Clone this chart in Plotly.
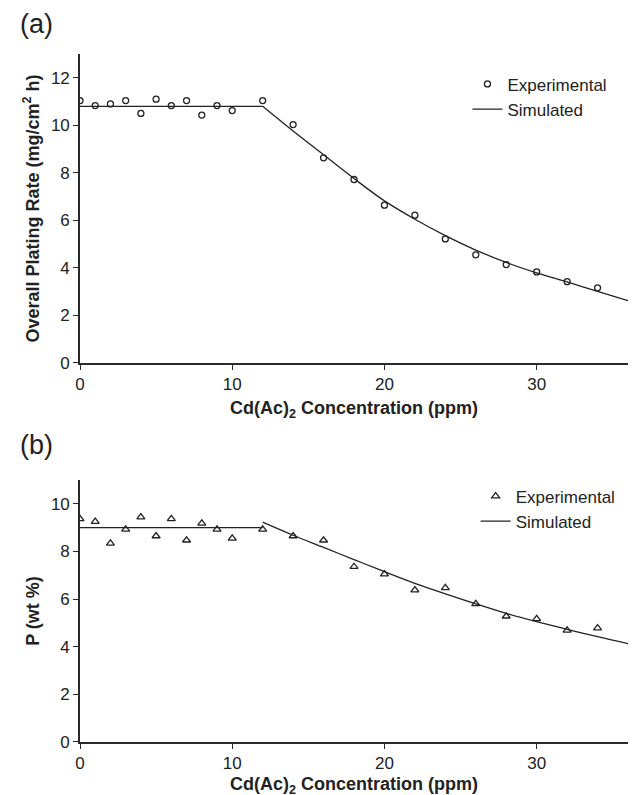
import plotly.graph_objects as go

# ---- data ----
conc_exp = [0, 1, 2, 3, 4, 5, 6, 7, 8, 9, 10, 12, 14, 16, 18, 20, 22, 24, 26, 28, 30, 32, 34]
rate_exp = [11.04, 10.83, 10.9, 11.04, 10.5, 11.1, 10.83, 11.04, 10.43, 10.83, 10.62, 11.04,
            10.03, 8.63, 7.72, 6.64, 6.22, 5.22, 4.55, 4.14, 3.83, 3.42, 3.16]
rate_sim_flat_x = [0, 12]
rate_sim_flat_y = [10.8, 10.8]
sim_curve_x = [12, 14, 16, 18, 20, 22, 24, 26, 28, 30, 32, 34, 36]
rate_sim_curve_y = [10.8, 9.76, 8.76, 7.76, 6.82, 6.05, 5.36, 4.75, 4.23, 3.79, 3.41, 3.01, 2.62]

p_exp = [9.37, 9.25, 8.34, 8.93, 9.44, 8.65, 9.37, 8.47, 9.18, 8.93, 8.55, 8.93,
         8.65, 8.47, 7.36, 7.05, 6.38, 6.47, 5.80, 5.28, 5.17, 4.69, 4.78]
p_sim_flat_x = [0, 12]
p_sim_flat_y = [9.0, 9.0]
p_sim_curve_y = [9.23, 8.68, 8.17, 7.66, 7.15, 6.66, 6.22, 5.80, 5.40, 5.05, 4.73, 4.42, 4.13]

x_ticks = [0, 10, 20, 30]
rate_ticks = [0, 2, 4, 6, 8, 10, 12]
p_ticks = [0, 2, 4, 6, 8, 10]

FONT = "Liberation Sans, Arial, Helvetica, sans-serif"
INK = "#222222"

fig = go.Figure()

# Panel (a)
fig.add_trace(go.Scatter(x=conc_exp, y=rate_exp, mode="markers", name="Experimental",
                         marker=dict(symbol="circle-open", size=6, color=INK, line=dict(width=1.3)),
                         xaxis="x", yaxis="y", legend="legend"))
fig.add_trace(go.Scatter(x=rate_sim_flat_x, y=rate_sim_flat_y, mode="lines", name="Simulated",
                         line=dict(color=INK, width=1.3), xaxis="x", yaxis="y",
                         legend="legend", legendgroup="sa"))
fig.add_trace(go.Scatter(x=sim_curve_x, y=rate_sim_curve_y, mode="lines", name="Simulated",
                         line=dict(color=INK, width=1.3, shape="spline", smoothing=1.0),
                         xaxis="x", yaxis="y", showlegend=False, legendgroup="sa"))

# Panel (b)
fig.add_trace(go.Scatter(x=conc_exp, y=p_exp, mode="markers", name="Experimental",
                         marker=dict(symbol="triangle-up-open", size=7, color=INK, line=dict(width=1.3)),
                         xaxis="x2", yaxis="y2", legend="legend2"))
fig.add_trace(go.Scatter(x=p_sim_flat_x, y=p_sim_flat_y, mode="lines", name="Simulated",
                         line=dict(color=INK, width=1.3), xaxis="x2", yaxis="y2",
                         legend="legend2", legendgroup="sb"))
fig.add_trace(go.Scatter(x=sim_curve_x, y=p_sim_curve_y, mode="lines", name="Simulated",
                         line=dict(color=INK, width=1.3, shape="spline", smoothing=1.0),
                         xaxis="x2", yaxis="y2", showlegend=False, legendgroup="sb"))

axis_common = dict(showgrid=False, zeroline=False, showline=True, linecolor="#2a2a2a", linewidth=1.6,
                   ticks="outside", ticklen=5, tickwidth=1.2, tickcolor="#2a2a2a",
                   tickfont=dict(family=FONT, size=17, color="#222222"))
xtitle = "<b>Cd(Ac)<sub>2</sub> Concentration (ppm)</b>"

fig.update_layout(
    width=638, height=795,
    margin=dict(l=72, r=18, t=46, b=61),
    paper_bgcolor="white", plot_bgcolor="white",
    font=dict(family=FONT, color="#222222"),
    xaxis=dict(axis_common, range=[0, 36], tickvals=x_ticks, anchor="y", domain=[0, 1],
               title=dict(text=xtitle, font=dict(family=FONT, size=18), standoff=8)),
    yaxis=dict(axis_common, range=[0, 13], tickvals=rate_ticks, anchor="x", domain=[0.5509, 1],
               title=dict(text="<b>Overall Plating Rate (mg/cm<sup>2</sup> h)</b>",
                          font=dict(family=FONT, size=18), standoff=7)),
    xaxis2=dict(axis_common, range=[0, 36], tickvals=x_ticks, anchor="y2", domain=[0, 1],
                title=dict(text=xtitle, font=dict(family=FONT, size=18), standoff=5)),
    yaxis2=dict(axis_common, range=[0, 11], tickvals=p_ticks, anchor="x2", domain=[0, 0.3808],
                title=dict(text="<b>P (wt %)</b>", font=dict(family=FONT, size=18), standoff=7)),
    legend=dict(x=0.707, y=0.982, xanchor="left", yanchor="top", bgcolor="rgba(0,0,0,0)",
                font=dict(family=FONT, size=17, color="#222222"), tracegroupgap=0),
    legend2=dict(x=0.722, y=0.383, xanchor="left", yanchor="top", bgcolor="rgba(0,0,0,0)",
                 font=dict(family=FONT, size=17, color="#222222"), tracegroupgap=0),
    annotations=[
        dict(text="(a)", xref="paper", yref="paper", x=-0.113, y=1.043, xanchor="left", yanchor="middle",
             showarrow=False, font=dict(family=FONT, size=27, color="#222222")),
        dict(text="(b)", xref="paper", yref="paper", x=-0.113, y=0.4317, xanchor="left", yanchor="middle",
             showarrow=False, font=dict(family=FONT, size=27, color="#222222")),
    ],
)

fig.write_html("out.html")
